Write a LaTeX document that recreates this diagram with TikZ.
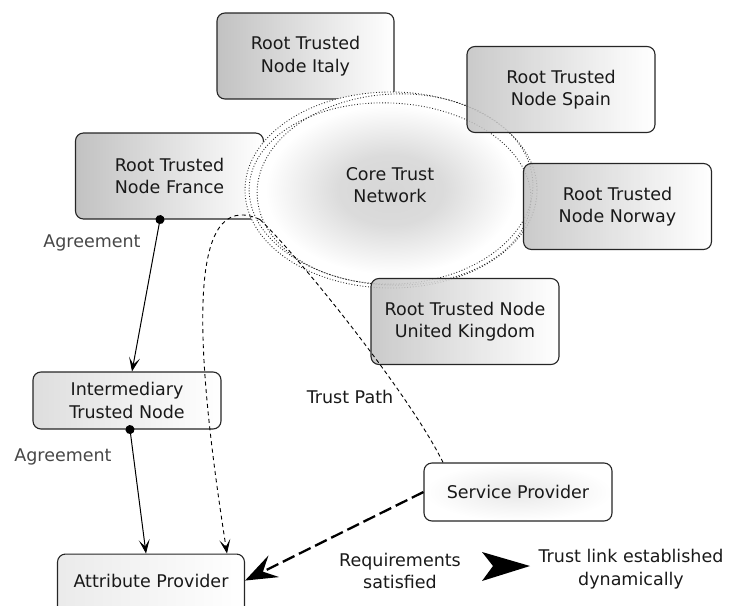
\documentclass[tikz,border=0pt]{standalone}
\usepackage{fontspec}
\setmainfont{DejaVu Sans}
\usetikzlibrary{arrows.meta,shapes.geometric}

% soft grey glow for the core network (the path box spans -25bp..25bp)
\pgfdeclareradialshading{coreglow}{\pgfpoint{0bp}{0bp}}{%
  color(0bp)=(black!16); color(9bp)=(black!14); color(21.5bp)=(white); color(25bp)=(white); color(50bp)=(white)}

\begin{document}
\begin{tikzpicture}[x=1pt,y=-1pt,
  font=\fontsize{17.5}{22.5}\selectfont,
  every node/.style={text=black!90, align=center},
  basebox/.style={draw=black!85, line width=1.1pt, rounded corners=8pt, inner sep=0pt},
  rootbox/.style={basebox, left color=black!24, right color=white, minimum width=188pt, minimum height=86pt},
  midbox/.style={basebox, left color=black!13, right color=white},
  leafbox/.style={basebox, left color=black!8, right color=white},
  spbox/.style={basebox, inner color=black!9, outer color=white},
  faded/.style={fill opacity=0.86, draw opacity=1, text opacity=1},
  ring/.style={draw=black!85, line width=0.85pt, dash pattern=on 0.9pt off 1.9pt},
  agree/.style={line width=1pt, shorten <=-4.5pt, {Circle[length=9pt]}-{Stealth[length=14pt,width=11pt,inset=7pt]}},
  label/.style={text=black!72},
  path/.style={line width=0.9pt, dash pattern=on 4pt off 3pt},
  linkarrow/.style={line width=2.3pt, dash pattern=on 13pt off 5pt, -{Stealth[length=32pt,width=24pt,inset=12pt]}}
]
\useasboundingbox (0,0) rectangle (744,605);

% root nodes lying under the core ring
\node[rootbox] (france) at (169.5,176) {Root Trusted\\Node France};
\node[rootbox, minimum width=177pt] (italy) at (305.5,56) {Root Trusted\\Node Italy};

% core trust network
\node[ellipse, minimum width=292pt, minimum height=196pt, shading=coreglow, inner sep=0pt] (core) at (391,190) {};
\node (coretext) at (390,185) {Core Trust\\Network};
\draw[ring] (core.center) ellipse [x radius=146, y radius=98];
\draw[ring] ([shift={(4,-1)}]core.center) ellipse [x radius=138, y radius=95, rotate=3];
\draw[ring] ([shift={(-1,4)}]core.center) ellipse [x radius=141, y radius=91, rotate=-3];

% root nodes lying over the core ring
\node[rootbox, faded] (spain) at (561,89.5) {Root Trusted\\Node Spain};
\node[rootbox, faded] (norway) at (617.5,206.5) {Root Trusted\\Node Norway};
\node[rootbox, faded] (uk) at (465,321.5) {Root Trusted Node\\United Kingdom};

% lower level
\node[midbox, minimum width=188pt, minimum height=57pt] (inter) at (127,400.5) {Intermediary\\Trusted Node};
\node[leafbox, minimum width=187pt, text height=33pt, text depth=32pt, anchor=north] (ap) at (151,553.5) {Attribute Provider};
\node[spbox, minimum width=188pt, minimum height=58pt] (sp) at (518,492) {Service Provider};

% agreements
\draw[agree] ([xshift=-9.5pt]france.south) -- ([xshift=5pt]inter.north);
\node[label] (agr1) at (92,243) {Agreement};
\draw[agree] ([xshift=3pt]inter.south) -- ([xshift=-5pt]ap.north);
\node[label] (agr2) at (63,457) {Agreement};

% trust path through the core
\draw[path] ([xshift=-4pt]france.south east) .. controls (300,258) and (410,395) .. ([xshift=-75pt]sp.north);
\node (tpath) at (350,397) {Trust Path};
\draw[line width=0.9pt, dash pattern=on 4pt off 3.5pt, -{Stealth[length=14pt,width=11pt,inset=7pt]}]
  ([xshift=-4pt]france.south east) .. controls (185,185) and (195,350) .. ([xshift=76pt]ap.north);

% dynamic trust link
\draw[linkarrow] (sp.west) -- ([yshift=6pt]ap.east);

% legend
\node (req) at (400,571) {Requirements\\satisfied};
\node (tlink) at (631,569) {Trust link established\\dynamically};
\fill[black] (530,566) -- (482,552) -- (493,566) -- (482,581) -- cycle;
\end{tikzpicture}
\end{document}
